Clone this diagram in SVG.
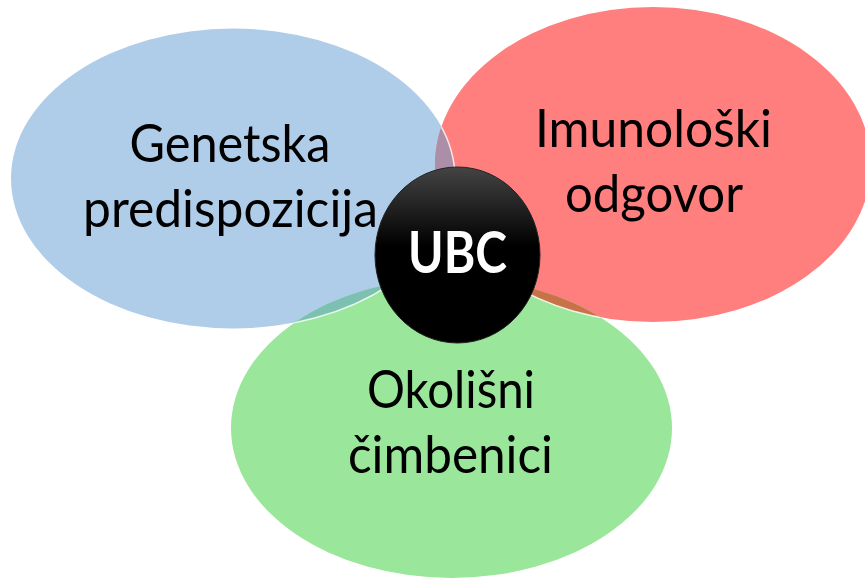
<svg xmlns="http://www.w3.org/2000/svg" width="865" height="580" viewBox="0 0 865 580">
<style>
.lbl{font-family:Lato,"Open Sans","Liberation Sans",sans-serif;font-size:53px;fill:#000;text-anchor:middle}
.ubc{font-family:Lato,"Open Sans","Liberation Sans",sans-serif;font-size:57px;font-weight:bold;fill:#fff;text-anchor:middle}
.edge{fill:none;stroke:#ffffff;stroke-width:1.5;stroke-opacity:0.8}
</style>
<defs>
<clipPath id="cBlue"><ellipse cx="233" cy="178.5" rx="222" ry="150"/></clipPath>
<clipPath id="cRed"><ellipse cx="653" cy="164.5" rx="218" ry="157.5"/></clipPath>
<clipPath id="cGreen"><ellipse cx="451.5" cy="428" rx="220.5" ry="150"/></clipPath>
<linearGradient id="gBlack" x1="0" y1="0" x2="0" y2="1">
<stop offset="0" stop-color="#444444"/>
<stop offset="0.45" stop-color="#000000"/>
<stop offset="1" stop-color="#000000"/>
</linearGradient>
</defs>
<rect width="865" height="580" fill="#ffffff"/>
<g id="genetska">
<ellipse cx="233" cy="178.5" rx="222" ry="150" fill="#afcde9"/>
</g>
<g id="imunoloski">
<ellipse cx="653" cy="164.5" rx="218" ry="157.5" fill="#ff7f7f"/>
</g>
<g id="okolisni">
<ellipse cx="451.5" cy="428" rx="220.5" ry="150" fill="#9ae69a"/>
</g>
<g id="overlaps">
<ellipse cx="653" cy="164.5" rx="218" ry="157.5" fill="#ad8ea8" clip-path="url(#cBlue)"/>
<ellipse cx="451.5" cy="428" rx="220.5" ry="150" fill="#7bc0b0" clip-path="url(#cBlue)"/>
<ellipse cx="451.5" cy="428" rx="220.5" ry="150" fill="#c87248" clip-path="url(#cRed)"/>
<g clip-path="url(#cRed)"><ellipse class="edge" cx="233" cy="178.5" rx="222" ry="150"/></g>
<g clip-path="url(#cGreen)"><ellipse class="edge" cx="233" cy="178.5" rx="222" ry="150"/></g>
<g clip-path="url(#cGreen)"><ellipse class="edge" cx="653" cy="164.5" rx="218" ry="157.5"/></g>
</g>
<g id="labels">
<text class="lbl" x="230" y="162" textLength="201" lengthAdjust="spacingAndGlyphs">Genetska</text>
<text class="lbl" x="230.5" y="227" textLength="295" lengthAdjust="spacingAndGlyphs">predispozicija</text>
<text class="lbl" x="653.5" y="147" textLength="237" lengthAdjust="spacingAndGlyphs">Imunološki</text>
<text class="lbl" x="654" y="212" textLength="178" lengthAdjust="spacingAndGlyphs">odgovor</text>
<text class="lbl" x="451" y="408" textLength="168" lengthAdjust="spacingAndGlyphs">Okolišni</text>
<text class="lbl" x="450.5" y="473" textLength="205" lengthAdjust="spacingAndGlyphs">čimbenici</text>
</g>
<g id="ubc">
<ellipse cx="457.5" cy="255" rx="82.5" ry="88" fill="url(#gBlack)" stroke="#222" stroke-width="1"/>
<text class="ubc" x="457.5" y="273" textLength="99" lengthAdjust="spacingAndGlyphs">UBC</text>
</g>
</svg>
